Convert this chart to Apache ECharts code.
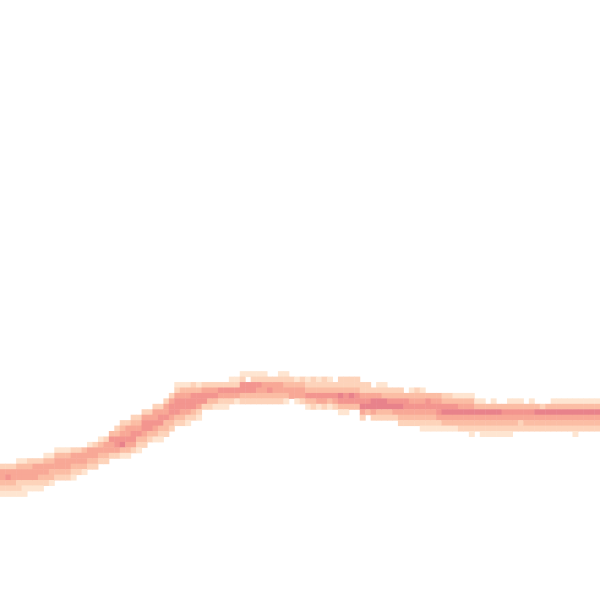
<!DOCTYPE html>
<html>
<head>
<meta charset="utf-8">
<script src="https://cdn.jsdelivr.net/npm/echarts@6/dist/echarts.min.js"></script>
<style>html,body{margin:0;padding:0;background:#fff;}#chart{width:600px;height:600px;}</style>
</head>
<body>
<div id="chart"></div>
<script>
// Grid of 110 x 110 cells; columns left->right, rows top->bottom
const colCategories = Array.from({length: 110}, (_, i) => String(i));
const rowCategories = Array.from({length: 110}, (_, i) => String(i));

// first row of the coloured band in each column
const bandTop = [
  85,85,85,84,84,84,84,84,83,83,
  82,82,82,82,82,82,81,81,80,80,
  79,78,77,77,76,76,75,75,74,74,
  73,72,70,70,70,70,70,70,70,70,
  70,70,69,69,68,68,68,68,68,69,
  69,68,68,69,69,69,69,69,69,69,
  69,70,69,69,69,69,70,70,71,70,
  70,71,71,71,72,71,71,71,72,72,
  72,72,72,72,72,72,72,73,73,74,
  73,74,74,73,73,73,74,73,74,74,
  74,73,73,73,73,73,73,73,73,73
];

// density level (1 light .. 6 dark, 0 empty) from bandTop downward
const bandLevels = [
  [2,4,4,3,2,1],[2,4,5,3,2,1],[2,4,4,3,2,1],[1,3,4,4,2,2,1],[1,3,4,4,2,1,1],
  [2,3,4,4,2,1],[2,4,4,4,2,1],[2,4,4,3,2,1],[1,3,4,4,3,2],[1,3,4,3,3,1],
  [1,3,4,4,3,2],[1,3,4,4,3,2],[1,3,4,4,3,2],[2,4,4,3,2,1],[2,4,4,3,2],
  [3,4,4,3,1],[1,4,4,3,2],[2,4,4,3,2],[1,3,4,3,2],[2,4,4,3,2],
  [3,5,4,4,2],[2,3,5,5,4,2],[2,3,4,5,6,3,1],[2,4,4,5,4,3,1],[2,3,4,5,5,4,2],
  [2,3,4,5,3,2,1],[2,4,5,5,4,3,2],[2,4,5,5,3,2],[2,4,4,5,4,3,1],[2,4,5,5,3,2,1],
  [2,4,4,5,3,3,2],[2,4,5,5,4,3,2],[1,2,4,5,5,5,3,2],[1,3,4,5,5,4,3,2],[1,3,4,5,5,4,2,1],
  [2,3,5,5,5,3,2],[1,3,5,5,4,2,1],[2,4,5,5,2],[2,4,5,3,2],[2,4,5,3,1],
  [2,5,4,2,1],[2,5,4,2,1],[1,2,5,4,2],[1,2,5,4,1],[1,2,5,5,3,2],
  [1,0,5,5,3,2],[1,2,5,5,3,2],[1,2,5,4,3,2],[1,2,4,4,3,2],[2,4,5,3,2],
  [2,4,4,3,2],[1,2,4,4,3,2],[1,2,3,4,3,1],[2,3,4,4],[1,3,4,4,1],
  [2,3,4,4,2],[1,2,3,5,3,1],[2,2,3,5,3,2],[1,2,3,5,4,1],[2,2,3,5,4,2],
  [1,2,3,5,3,1],[2,3,5,4,2],[2,2,3,6,5,3,1],[2,2,3,5,5,3,1],[2,2,3,6,5,3],
  [2,2,3,5,5,3],[2,2,4,5,6,4,2],[2,2,4,5,6,3],[2,4,6,6,4,2],[1,2,4,6,6,3,2],
  [1,2,3,6,6,3,2],[2,3,5,6,3,2],[2,3,5,6,4,2],[2,3,5,6,4,3,2],[3,5,5,4,3,2],
  [1,3,4,5,4,3,2],[2,3,4,5,4,3,2],[1,3,4,5,4,3,2,1],[3,5,5,4,3,2,1],[3,4,5,4,3,2,1],
  [3,4,5,5,4,2,1],[2,3,5,6,4,3,1],[2,3,5,6,4,3,1],[1,3,5,6,4,3,1],[1,3,4,6,4,3,2],
  [1,3,4,6,4,3,2],[1,3,4,6,4,3,2,1],[1,3,6,4,3,2],[1,3,6,4,3,2,1],[3,6,4,3,2,1],
  [1,3,6,4,3,2,1],[3,6,4,3,2,1],[3,5,4,3,2,1],[1,3,5,4,3,2,1],[1,3,5,4,3,2],
  [1,3,5,4,2,2],[3,5,4,3,2],[1,3,5,4,3,2],[3,6,4,3,2],[2,6,4,3,2],
  [3,6,4,3,2],[1,3,6,4,3,2],[1,3,6,4,3,2],[1,3,6,4,3,2],[1,3,6,4,3,2],
  [1,3,6,4,3,2,1],[1,3,6,4,3,2],[1,3,6,4,3,2],[1,3,6,4,3,2],[1,3,6,4,3,2]
];

const levelColors = ['#fee5d1', '#fdd3ba', '#fbbda4', '#f8a896', '#f3958f', '#e8828b'];

const cells = [];
bandLevels.forEach((col, c) => {
  col.forEach((v, k) => {
    if (v > 0) cells.push([c, bandTop[c] + k, v]);
  });
});

const chart = echarts.init(document.getElementById('chart'), null, {renderer: 'canvas'});
chart.setOption({
  animation: false,
  backgroundColor: '#ffffff',
  grid: {left: 0, right: 0, top: 1.3, height: 600, containLabel: false},
  xAxis: {type: 'category', data: colCategories, show: false},
  yAxis: {type: 'category', data: rowCategories, inverse: true, show: false},
  visualMap: {
    show: false, type: 'continuous', min: 1, max: 6, dimension: 2,
    inRange: {color: levelColors}
  },
  series: [{
    type: 'heatmap',
    data: cells,
    itemStyle: {borderWidth: 0},
    emphasis: {disabled: true}
  }]
});
</script>
</body>
</html>
